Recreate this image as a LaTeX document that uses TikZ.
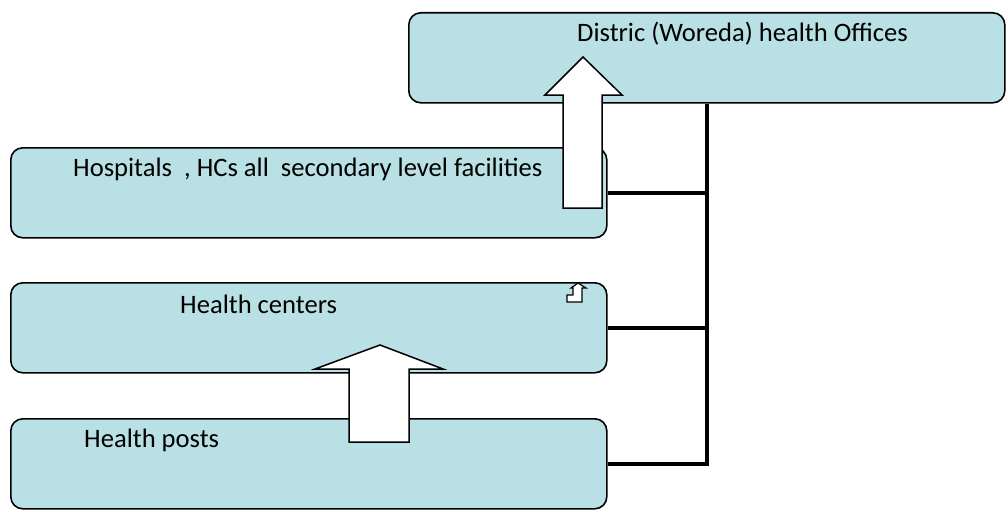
\documentclass[tikz,border=0pt]{standalone}
\usepackage{fontspec}
\setmainfont{Carlito}
\definecolor{boxfill}{RGB}{185,224,228}
\begin{document}
\begin{tikzpicture}[x=1pt,y=-1pt,
  levelbox/.style={draw=black,line width=1.6pt,fill=boxfill,rounded corners=12pt,
    minimum width=596pt,minimum height=90pt,inner sep=0pt,anchor=north west},
  lbl/.style={anchor=west,inner sep=0pt,font=\fontsize{26.6}{30}\selectfont},
  link/.style={line width=4.5pt,line join=miter},
  blockarrow/.style={draw=black,fill=white,line width=1.5pt,line join=miter}]
\useasboundingbox (0,0) rectangle (1008,511);
% boxes
\node[levelbox] (dist) at (408,12) {};
\node[levelbox] (hosp) at (10,147) {};
\node[levelbox] (hc) at (10,282) {};
\node[levelbox] (hp) at (10,418) {};
% labels
\node[lbl] (tdist) at (577,34) {Distric (Woreda) health Offices};
\node[lbl] (thosp) at (73,169) {Hospitals\ \ , HCs all\ \ secondary level facilities};
\node[lbl] (thc) at (180,304) {Health centers};
\node[lbl] (thp) at (84,440) {Health posts};
% connectors
\coordinate (bus) at (dist.south |- hp.east);
\draw[link] (dist.south) -- (bus) -- (hp.east);
\draw[link] (hosp.east) -- (hosp.east -| dist.south);
\draw[link] (hc.east) -- (hc.east -| dist.south);
% block arrows
\draw[blockarrow] (563,208) -- (563,95) -- (545,95) -- (583,57) -- (622,95) -- (602,95) -- (602,208) -- cycle;
\draw[blockarrow] (349,442) -- (349,369) -- (315,369) -- (380,345) -- (443,369) -- (409,369) -- (409,442) -- cycle;
% small icon
\draw[fill=white,line width=1.2pt,line join=miter] (567,295) -- (573,295) -- (573,288) -- (571,288) -- (578,283) -- (586,288) -- (582,288) -- (582,302) -- (567,302) -- cycle;
\end{tikzpicture}
\end{document}
